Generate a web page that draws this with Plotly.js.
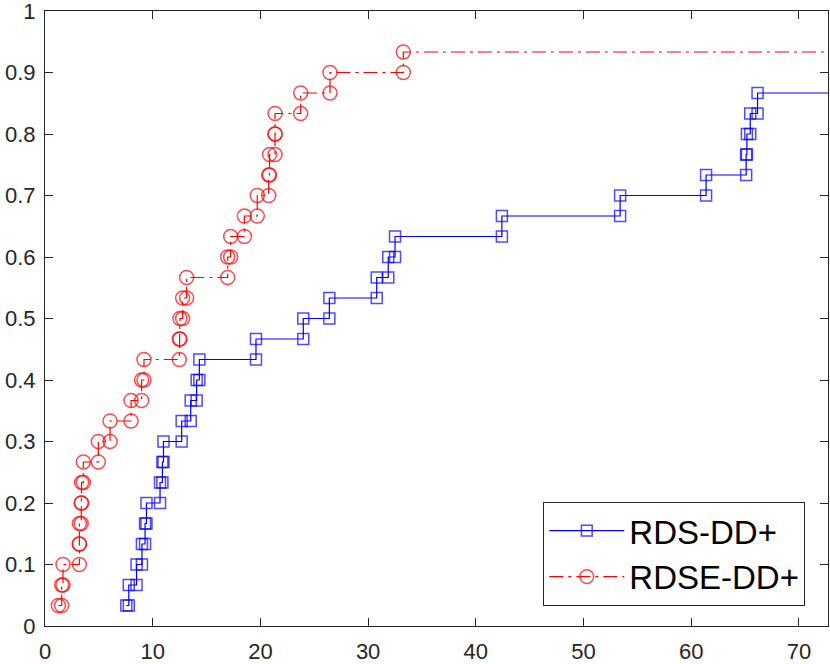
<!DOCTYPE html>
<html>
<head>
<meta charset="utf-8">
<script src="https://cdn.plot.ly/plotly-3.0.1.min.js"></script>
<style>
  html, body { margin: 0; padding: 0; background: #fff; }
  #myDiv { width: 830px; height: 664px; }
</style>
</head>
<body>
<div id="myDiv"></div>
<script>
/**
 * Step times, one per problem solved
 */
var tRds = [7.55, 7.78, 8.50, 9.00, 9.29, 9.42, 10.68, 10.90, 11.00, 12.69,
            13.53, 14.08, 14.33, 19.59, 23.98, 26.40, 30.80, 31.87, 32.50, 42.42,
            53.40, 61.38, 65.10, 65.17, 65.48, 66.16];
var yRds = [0.0333, 0.0667, 0.1000, 0.1333, 0.1667, 0.2000, 0.2333, 0.2667, 0.3000, 0.3333,
            0.3667, 0.4000, 0.4333, 0.4667, 0.5000, 0.5333, 0.5667, 0.6000, 0.6333, 0.6667,
            0.7000, 0.7333, 0.7667, 0.8000, 0.8333, 0.8667];

var tRdse = [1.24, 1.55, 1.67, 3.19, 3.19, 3.36, 3.40, 3.56, 4.95, 6.04,
             7.99, 8.97, 9.19, 12.47, 12.53, 12.78, 13.15, 16.96, 17.24, 18.51,
             19.71, 20.77, 20.85, 21.36, 21.36, 23.74, 26.46, 33.27];
var yRdse = [0.0333, 0.0667, 0.1000, 0.1333, 0.1667, 0.2000, 0.2333, 0.2667, 0.3000, 0.3333,
             0.3667, 0.4000, 0.4333, 0.4667, 0.5000, 0.5333, 0.5667, 0.6000, 0.6333, 0.6667,
             0.7000, 0.7333, 0.7667, 0.8000, 0.8333, 0.8667, 0.9000, 0.9333];

var xTicks = [0, 10, 20, 30, 40, 50, 60, 70];
var yTicks = [0, 0.1, 0.2, 0.3, 0.4, 0.5, 0.6, 0.7, 0.8, 0.9, 1];
var yTickText = ['0', '0.1', '0.2', '0.3', '0.4', '0.5', '0.6', '0.7', '0.8', '0.9', '1'];

var xMax = 72.7;
var xTail = 100;

/**
 * Turn step times into the corner points of the staircase,
 * so every corner carries a marker; the tail gets none
 */
function corners(t, y, size) {
    var cx = [], cy = [], sz = [];
    for (let i = 0; i < t.length; i++) {
        if (i > 0) {
            cx.push(t[i]); cy.push(y[i-1]); sz.push(size);
        }
        cx.push(t[i]); cy.push(y[i]); sz.push(size);
    }
    cx.push(xTail); cy.push(y[y.length-1]); sz.push(0);
    return {x: cx, y: cy, s: sz};
}

function plot() {
    var a = corners(tRds, yRds, 11);
    var b = corners(tRdse, yRdse, 14);

    var trace1 = {
        type: 'scatter',
        x: a.x,
        y: a.y,
        mode: 'lines+markers',
        name: 'RDS-DD+',
        line: {color: 'rgb(0, 0, 255)', width: 1.2},
        marker: {
            symbol: 'square-open',
            size: a.s,
            color: 'rgb(0, 0, 255)',
            line: {color: 'rgb(0, 0, 255)', width: 1.5}
        }
    };

    var trace2 = {
        type: 'scatter',
        x: b.x,
        y: b.y,
        mode: 'lines+markers',
        name: 'RDSE-DD+',
        line: {color: 'rgb(255, 0, 0)', width: 1.2, dash: '14px,5px,3px,5px'},
        marker: {
            symbol: 'circle-open',
            size: b.s,
            color: 'rgb(255, 0, 0)',
            line: {color: 'rgb(255, 0, 0)', width: 1.5}
        }
    };

    var axisStyle = {
        showgrid: false,
        zeroline: false,
        showline: true,
        linecolor: '#262626',
        linewidth: 1,
        mirror: 'ticks',
        ticks: 'inside',
        ticklen: 8,
        tickwidth: 1,
        tickcolor: '#262626',
        ticklabeloverflow: 'allow',
        tickfont: {family: 'Liberation Sans, Arial, sans-serif', size: 22, color: '#262626'}
    };

    var layout = {
        width: 830,
        height: 664,
        margin: {l: 45, r: 2, t: 11, b: 38},
        paper_bgcolor: '#ffffff',
        plot_bgcolor: '#ffffff',
        showlegend: true,
        xaxis: Object.assign({}, axisStyle, {range: [0, xMax], tickmode: 'array', tickvals: xTicks,
                                             ticklabelstandoff: 6}),
        yaxis: Object.assign({}, axisStyle, {range: [0, 1], tickmode: 'array',
                                             tickvals: yTicks, ticktext: yTickText,
                                             ticklabelstandoff: 4}),
        legend: {
            x: 0.6364,
            y: 0.033,
            xanchor: 'left',
            yanchor: 'bottom',
            bgcolor: '#ffffff',
            bordercolor: '#262626',
            borderwidth: 1,
            itemwidth: 75,
            entrywidth: 170,
            font: {family: 'Liberation Sans, Arial, sans-serif', size: 33, color: '#000000'}
        }
    };

    Plotly.newPlot('myDiv', [trace1, trace2], layout, {displayModeBar: false});
}

plot();
</script>
</body>
</html>
